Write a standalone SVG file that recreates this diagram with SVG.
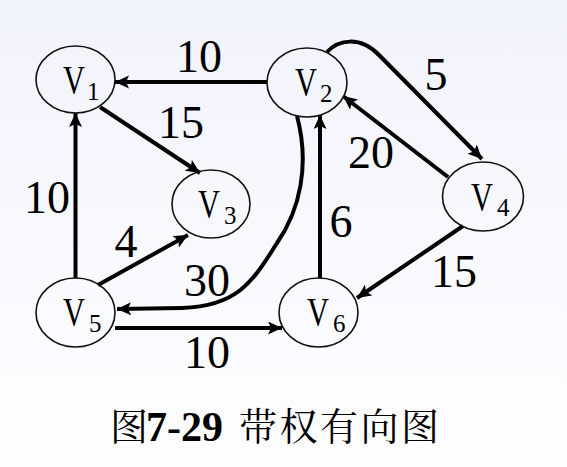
<svg xmlns="http://www.w3.org/2000/svg" width="567" height="467" viewBox="0 0 567 467">
<defs>
<linearGradient id="bg" x1="0" y1="0" x2="0" y2="1">
<stop offset="0" stop-color="#f1f3fc"/>
<stop offset="0.5" stop-color="#f8f9fe"/>
<stop offset="1" stop-color="#fefeff"/>
</linearGradient>
<marker id="ah" markerUnits="userSpaceOnUse" markerWidth="16" markerHeight="14" refX="14" refY="6.5" orient="auto">
<path d="M0,0 L14,6.5 L0,13 L3,6.5 z" fill="#000"/>
</marker>
<style>
.node ellipse{fill:none;stroke:#111;stroke-width:1.6}
.v{font-family:"Liberation Serif","Times New Roman",serif;font-size:40px;fill:#000}
.s{font-family:"Liberation Serif","Times New Roman",serif;font-size:25px;fill:#000}
.w{font-family:"Liberation Serif","Times New Roman",serif;font-size:46px;fill:#000;text-anchor:middle}
.e{fill:none;stroke:#000;stroke-width:4;marker-end:url(#ah)}
.cj{font-family:"Noto Serif CJK SC","Noto Sans CJK SC",serif;font-size:38px;fill:#000}
.cn{font-family:"Liberation Serif","Times New Roman",serif;font-weight:bold;font-size:42px;fill:#000}
</style>
</defs>
<rect x="0" y="0" width="567" height="467" fill="url(#bg)"/>
<g id="edges">
<line class="e" x1="267" y1="82" x2="115" y2="82"/>
<line class="e" x1="100" y1="107" x2="200" y2="173"/>
<line class="e" x1="75.5" y1="278" x2="75.5" y2="113"/>
<line class="e" x1="98" y1="285" x2="188" y2="235"/>
<line class="e" x1="115" y1="328" x2="282" y2="328"/>
<line class="e" x1="320" y1="278" x2="320" y2="115"/>
<line class="e" x1="463" y1="226" x2="357" y2="298"/>
<line class="e" x1="448" y1="177" x2="343" y2="96"/>
<path class="e" d="M327,52 C338,40 360,35 380,56 L482,159"/>
<path class="e" d="M297,116 C310,165 300,210 277,243 C252,283 237,306 182,308 L117,309"/>
</g>
<g id="labels">
<text class="w" x="199" y="72">10</text>
<text class="w" x="181" y="138">15</text>
<text class="w" x="47" y="213">10</text>
<text class="w" x="436" y="90">5</text>
<text class="w" x="371" y="168">20</text>
<text class="w" x="341" y="237">6</text>
<text class="w" x="126" y="257">4</text>
<text class="w" x="207" y="296">30</text>
<text class="w" x="454" y="287">15</text>
<text class="w" x="207" y="368">10</text>
</g>
<g id="V1" class="node">
<ellipse cx="75.5" cy="79.5" rx="39.5" ry="33.5"/>
<text class="v" transform="translate(63,93) scale(0.76,1)">V</text>
<text class="s" x="87" y="100">1</text>
</g>
<g id="V2" class="node">
<ellipse cx="307" cy="82.5" rx="40" ry="34.5"/>
<text class="v" transform="translate(295,95) scale(0.76,1)">V</text>
<text class="s" x="320" y="102">2</text>
</g>
<g id="V3" class="node">
<ellipse cx="211" cy="204" rx="39" ry="34"/>
<text class="v" transform="translate(198,217) scale(0.76,1)">V</text>
<text class="s" x="224" y="224">3</text>
</g>
<g id="V4" class="node">
<ellipse cx="483" cy="196.5" rx="40.5" ry="34.5"/>
<text class="v" transform="translate(471,210) scale(0.76,1)">V</text>
<text class="s" x="497" y="216">4</text>
</g>
<g id="V5" class="node">
<ellipse cx="75.5" cy="312.5" rx="39.5" ry="34.5"/>
<text class="v" transform="translate(63,325) scale(0.76,1)">V</text>
<text class="s" x="89" y="332">5</text>
</g>
<g id="V6" class="node">
<ellipse cx="318.5" cy="312.5" rx="39.5" ry="34.5"/>
<text class="v" transform="translate(307,325) scale(0.76,1)">V</text>
<text class="s" x="333" y="332">6</text>
</g>
<g id="caption">
<text class="cj" x="110" y="440">图</text>
<text class="cn" x="146" y="441">7-29</text>
<text class="cj" x="239" y="440" letter-spacing="2.5">带权有向图</text>
</g>
</svg>
